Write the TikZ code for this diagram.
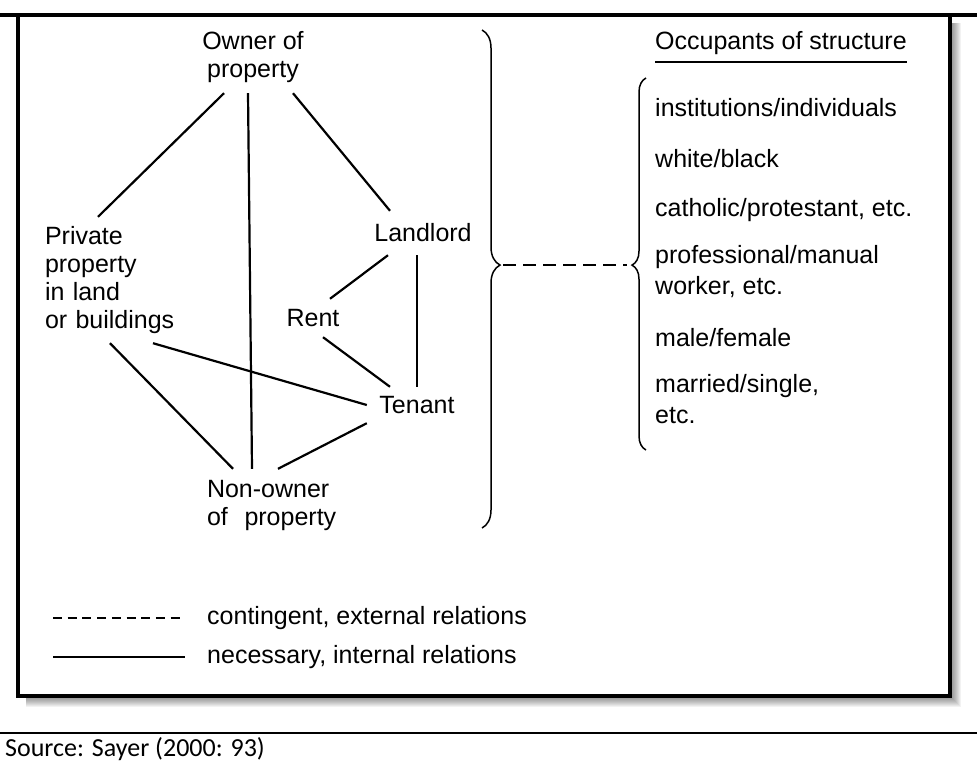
\documentclass[tikz,border=0pt]{standalone}
\usepackage{fontspec}
\setmainfont{Liberation Sans}
\newfontfamily\sourcefont{Carlito}
\usetikzlibrary{decorations.pathreplacing}

\begin{document}
\begin{tikzpicture}[x=1pt,y=-1pt,
    term/.style={inner sep=0pt,font=\fontsize{25}{28}\selectfont},
    occupant/.style={inner sep=0pt,anchor=west,align=left,font=\fontsize{25}{31}\selectfont},
    nec/.style={line width=2.2pt},
    con/.style={line width=2pt,dash pattern=on 13pt off 7pt}]
  \useasboundingbox (0,0) rectangle (977,763);
  \foreach \d in {1,...,11}
    \fill[black,opacity=0.05] (26,23) rectangle (950+\d,696+\d);
  \draw[line width=3.5pt,fill=white] (18,15) rectangle (950,696);
  \draw[line width=4pt] (0,15) -- (977,15);

  \node[term,minimum width=104pt,minimum height=72pt,align=center] (owner) at (253,57) {Owner of\\property};
  \node[term,text width=140pt,minimum height=126pt,align=left] (private) at (115,280) {Private\\property\\in land\\or buildings};
  \node[term,minimum width=100pt,minimum height=44pt] (landlord) at (423,233) {Landlord};
  \node[term,minimum height=38pt] (rent) at (313,318) {Rent};
  \node[term,minimum width=100pt,minimum height=36pt] (tenant) at (417,405) {Tenant};
  \node[term,text width=130pt,minimum height=72pt,align=left] (nonowner) at (272,505) {Non-owner\\of\ \ property};

  \draw[nec] ([xshift=-29pt]owner.south) -- ([xshift=-17pt]private.north);
  \draw[nec] ([xshift=-5pt]owner.south) -- ([xshift=-20pt]nonowner.north);
  \draw[nec] ([xshift=40pt]owner.south) -- ([xshift=-33pt]landlord.north);
  \draw[nec] ([xshift=-35pt]landlord.south) -- ([xshift=17pt]rent.north);
  \draw[nec] ([xshift=-6pt]landlord.south) -- (tenant.north);
  \draw[nec] ([xshift=10pt]rent.south) -- ([xshift=-27pt]tenant.north);
  \draw[nec] ([xshift=38pt]private.south) -- (tenant.west);
  \draw[nec] ([xshift=-5pt]private.south) -- ([xshift=-39pt]nonowner.north);
  \draw[nec] (tenant.south west) -- ([xshift=6pt]nonowner.north);

  % the two braces and the contingent link between them
  \draw[line width=1.5pt,decorate,decoration={brace,amplitude=18pt,aspect=0.472}] (482,30) -- (482,528);
  \draw[line width=1.5pt,decorate,decoration={brace,amplitude=14pt,aspect=0.497}] (646,450) -- (646,78);
  \coordinate (bigtip) at (503,265);
  \coordinate (smalltip) at (627,265);
  \draw[con] (bigtip) -- (smalltip);

  \node[term,anchor=west,inner ysep=7pt] (occ) at (655,43) {Occupants of structure};
  \draw[line width=1.5pt] (occ.south west) -- (occ.south east);
  \node[occupant] (inst) at (655,108) {institutions/individuals};
  \node[occupant] (race) at (655,159) {white/black};
  \node[occupant] (faith) at (655,210) {catholic/protestant, etc.};
  \node[occupant] (work) at (655,272) {professional/manual\\worker, etc.};
  \node[occupant] (sex) at (655,338) {male/female};
  \node[occupant] (marital) at (655,399) {married/single,\\etc.};

  % legend
  \node[term,anchor=west] (conlbl) at (207,618) {contingent, external relations};
  \node[term,anchor=west] (neclbl) at (207,657) {necessary, internal relations};
  \coordinate (conend) at (53,618);
  \coordinate (necend) at (53,657);
  \draw[line width=1.8pt,dash pattern=on 9pt off 5.7pt] (conend) -- ([xshift=-22pt]conlbl.west);
  \draw[nec] (necend) -- ([xshift=-22pt]neclbl.west);

  \draw[line width=2pt] (0,733) -- (977,733);
  \node[anchor=west,inner sep=0pt,font=\sourcefont\fontsize{26}{30}\selectfont] (src) at (5,749) {Source: Sayer (2000: 93)};
\end{tikzpicture}
\end{document}
